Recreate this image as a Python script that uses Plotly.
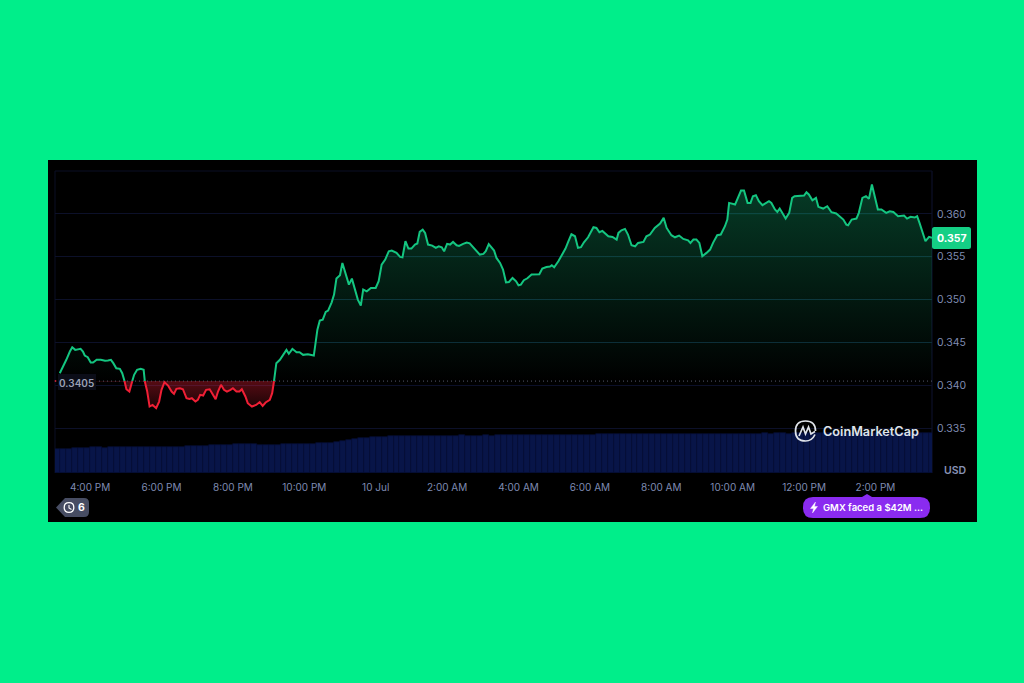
import numpy as np
import plotly.graph_objects as go

# minutes after 15:00 on 9 Jul
minutes = [9,15,20,26,30,35,40,44,48,51,56,61,65,71,78,85,90,95,99,104,110,114,118,121,126,129,134,139,145,150,152,156,160,165,171,176,180,185,191,197,201,205,211,216,222,227,231,237,241,245,250,255,261,265,271,275,280,285,290,296,300,306,311,315,321,325,332,339,345,350,355,362,366,369,373,379,384,390,394,400,407,412,418,426,436,
442,446,451,456,460,466,470,474,480,484,490,495,500,505,510,515,519,525,532,540,545,550,556,562,567,575,581,585,590,595,600,606,610,614,619,623,628,635,641,646,651,655,660,665,670,676,680,687,693,698,704,710,715,721,725,730,735,739,743,749,754,759,764,770,776,780,784,789,795,802,815,820,827,833,836,840,847,852,859,864,869,875,880,885,890,897,903,906,911,916,921,927,931,938,945,948,953,959,964,970,976,981,990,995,1001,1009,1018,1024,1029,1037,1043,1050,1057,1065,1069,1074,1079,1084,
1089,1096,1102,1107,1114,1120,1127,1131,1134,1144,1149,1154,1159,1165,1170,1174,1179,1184,1190,1196,1201,1205,1211,1215,1219,1225,1229,1235,1240,1244,1253,1260,1264,1268,1274,1280,1284,1292,1299,1306,1314,1320,1326,1331,1334,1340,1348,1352,1358,1364,1369,1374,1379,1384,1390,1398,1404,1410,1418,1428,1433,1439,1446,1450,1454,1464,1470,1475]
prices = [.34142,.34220,.34298,.34395,.34445,.34414,.34422,.34426,.34395,.34348,.34329,.34266,.34266,.34298,.34298,.34286,.34290,.34298,.34259,.34200,.34193,.34142,.34045,.33955,.33928,.34006,.34123,.34181,.34193,.34181,.34045,.33928,.33753,.33772,.33734,.33811,.33948,.34037,.33998,.33928,.33901,.33959,.33967,.33955,.33850,.33842,.33850,.33811,.33831,.33889,.33881,.33948,.33955,.33909,.33839,.33928,.34006,.33948,.33928,.33948,.33967,.33928,.33928,.33955,.33870,.33792,.33753,.33772,.33804,.33761,.33800,.33831,.33909,.34045,.34259,.34298,.34356,.34414,.34368,.34426,.34387,.34387,.34356,.34364,.34348,
.34650,.34755,.34767,.34856,.34872,.34969,.35058,.35245,.35284,.35428,.35280,.35175,.35245,.35117,.35000,.34930,.35117,.35097,.35136,.35136,.35214,.35409,.35467,.35564,.35572,.35545,.35498,.35494,.35681,.35595,.35595,.35642,.35654,.35790,.35817,.35778,.35642,.35630,.35603,.35622,.35611,.35564,.35650,.35642,.35673,.35634,.35626,.35650,.35665,.35657,.35611,.35576,.35525,.35533,.35564,.35646,.35603,.35572,.35486,.35428,.35350,.35202,.35206,.35253,.35214,.35167,.35175,.35226,.35249,.35292,.35296,.35362,.35381,.35385,.35401,.35377,.35447,.35513,.35595,.35681,.35762,.35739,.35603,.35611,.35669,.35727,.35809,.35844,.35836,.35786,.35801,.35759,.35739,.35731,.35700,.35778,.35809,.35825,.35759,.35634,.35622,.35661,.35673,.35739,.35759,.35836,.35887,.35953,.35836,.35751,.35727,.35747,.35708,.35692,.35661,.35700,.35700,.35661,
.35506,.35545,.35584,.35662,.35751,.35759,.35856,.35934,.36128,.36109,.36187,.36272,.36272,.36128,.36128,.36206,.36218,.36148,.36101,.36128,.36148,.36128,.36051,.36023,.36062,.35992,.35945,.36012,.36187,.36206,.36206,.36214,.36253,.36226,.36159,.36187,.36082,.36062,.36089,.36019,.36004,.35973,.35934,.35875,.35868,.35934,.35945,.36012,.36187,.36206,.36175,.36342,.36206,.36051,.36051,.36012,.36031,.36023,.35973,.35980,.35945,.35965,.35957,.35973,.35895,.35681,.35732,.35720]

# volume, one bar per ten minutes (relative scale)
volumes = [2.37,2.40,2.45,2.50,2.55,2.55,2.56,2.57,2.55,2.57,2.58,2.56,2.58,2.58,2.60,2.58,2.60,2.62,2.61,2.63,2.64,2.65,2.68,2.70,2.72,2.74,2.78,2.80,2.82,2.84,2.86,2.88,2.90,2.88,2.85,2.80,2.82,2.85,2.87,2.88,2.90,2.92,2.94,2.95,2.97,3.00,3.05,3.12,3.25,3.35,3.42,3.48,3.52,3.58,3.60,3.64,3.68,3.70,3.72,3.72,3.73,3.72,3.74,3.73,3.74,3.75,3.74,3.75,3.76,3.75,3.74,3.75,3.76,3.75,3.76,3.77,3.76,3.78,3.77,3.78,3.79,3.78,3.80,3.81,3.80,3.82,3.83,3.82,3.84,3.85,3.84,3.86,3.87,3.88,3.90,3.92,3.93,3.94,3.95,3.94,3.93,3.92,3.93,3.92,3.94,3.93,3.92,3.93,3.94,3.93,3.92,3.93,3.92,3.94,3.93,3.94,3.95,3.94,3.95,3.96,3.95,3.97,3.96,3.95,3.96,3.97,3.96,3.97,3.98,3.97,3.98,3.97,3.98,3.99,3.98,3.99,3.98,4.00,3.99,4.00,3.99,4.00,4.01,4.00,4.00,4.01,4.00,4.00]

x_tick_minutes = [60,180,300,420,540,660,780,900,1020,1140,1260,1380]
x_tick_labels = ["4:00 PM","6:00 PM","8:00 PM","10:00 PM","10 Jul","2:00 AM","4:00 AM","6:00 AM","8:00 AM","10:00 AM","12:00 PM","2:00 PM"]
y_ticks = [0.335,0.340,0.345,0.350,0.355,0.360]
BASE = 0.3405
LAST = 0.357

GREEN, RED = "#14c580", "#f01f35"
AXIS = "#7f8bb2"
FONT = "Inter"

W, H = 1024, 683
L, R, T, B = 55, 932, 171, 473
def px(v): return (v - L) / (R - L)
def py(v): return (B - v) / (B - T)
def P(v, w): return f"{px(v):.5f} {py(w):.5f}"

# split the series where it crosses the opening price
xs, ys = [minutes[0]], [prices[0]]
for i in range(1, len(minutes)):
    a, b = prices[i-1], prices[i]
    if (a - BASE) * (b - BASE) < 0:
        t = (BASE - a) / (b - a)
        xs.append(minutes[i-1] + t * (minutes[i] - minutes[i-1])); ys.append(BASE)
    xs.append(minutes[i]); ys.append(b)
xs, ys = np.array(xs), np.array(ys)
up = np.where(ys >= BASE, ys, np.nan)
dn = np.where(ys <= BASE, ys, np.nan)
base = np.full(len(xs), BASE)

fig = go.Figure()
fig.add_bar(x=np.arange(len(volumes)) * 10 + 5, y=volumes, yaxis="y2", width=10,
            marker=dict(color="#081548", line=dict(color="#060f36", width=0.6)), hoverinfo="skip")
fig.add_scatter(x=xs, y=base, mode="lines", line=dict(width=0), hoverinfo="skip")
fig.add_scatter(x=xs, y=np.maximum(ys, BASE), mode="lines", line=dict(width=0), fill="tonexty", hoverinfo="skip",
                fillgradient=dict(type="vertical", start=BASE, stop=0.3635,
                                  colorscale=[[0, "rgba(20,197,128,0)"], [1, "rgba(20,197,128,0.30)"]]))
fig.add_scatter(x=xs, y=base, mode="lines", line=dict(width=0), hoverinfo="skip")
fig.add_scatter(x=xs, y=np.minimum(ys, BASE), mode="lines", line=dict(width=0), fill="tonexty", hoverinfo="skip",
                fillgradient=dict(type="vertical", start=0.3372, stop=BASE,
                                  colorscale=[[0, "rgba(240,31,53,0.10)"], [1, "rgba(240,31,53,0.36)"]]))
# grid lines pick up a teal tint where they run under the area
for level in y_ticks[2:]:
    fig.add_scatter(x=xs, y=np.where(ys >= level, level, np.nan), mode="lines",
                    line=dict(color="rgba(20,197,128,0.13)", width=1), hoverinfo="skip")
fig.add_scatter(x=xs, y=up, mode="lines", line=dict(color=GREEN, width=2), connectgaps=False, hoverinfo="skip")
fig.add_scatter(x=xs, y=dn, mode="lines", line=dict(color=RED, width=2), connectgaps=False, hoverinfo="skip")

def rrect(x0, y0, x1, y1, r):
    return (f"M {P(x0+r,y0)} L {P(x1-r,y0)} Q {P(x1,y0)} {P(x1,y0+r)} L {P(x1,y1-r)} Q {P(x1,y1)} {P(x1-r,y1)} "
            f"L {P(x0+r,y1)} Q {P(x0,y1)} {P(x0,y1-r)} L {P(x0,y0+r)} Q {P(x0,y0)} {P(x0+r,y0)} Z")

def circle(cx, cy, r):
    return (f"M {P(cx-r,cy)} Q {P(cx-r,cy-r)} {P(cx,cy-r)} Q {P(cx+r,cy-r)} {P(cx+r,cy)} "
            f"Q {P(cx+r,cy+r)} {P(cx,cy+r)} Q {P(cx-r,cy+r)} {P(cx-r,cy)} Z")

shapes = [
    dict(type="rect", xref="paper", yref="paper", x0=px(48), x1=px(977), y0=py(522), y1=py(160),
         fillcolor="#000000", line_width=0, layer="below"),
    dict(type="line", xref="paper", yref="paper", x0=px(L), x1=px(L), y0=0, y1=1, line=dict(color="#0b0e24", width=1), layer="below"),
    dict(type="line", xref="paper", yref="paper", x0=1, x1=1, y0=0, y1=1, line=dict(color="#0f1230", width=1), layer="below"),
    dict(type="line", xref="paper", yref="paper", x0=0, x1=1, y0=1, y1=1, line=dict(color="#0b0e24", width=1), layer="below"),
    dict(type="line", xref="paper", yref="y", x0=0, x1=1, y0=BASE, y1=BASE, line=dict(color="#55586a", width=1, dash="1px,3px")),
    dict(type="rect", xref="paper", yref="paper", x0=px(58), x1=px(96), y0=py(390), y1=py(374), fillcolor="#0b0d18", line_width=0),
    dict(type="circle", xref="paper", yref="y", x0=px(54.5), x1=px(56.5), y0=BASE-0.00009, y1=BASE+0.00009, fillcolor=RED, line_width=0),
    dict(type="path", xref="paper", yref="paper", path=rrect(932, 227, 971, 249, 2.5), fillcolor="#14cf85", line_width=0),
    dict(type="path", xref="paper", yref="paper", path=rrect(803, 497, 930, 518, 10), fillcolor="#8a2bf0", line_width=0),
    dict(type="path", xref="paper", yref="paper", path=f"M {P(862,497)} L {P(867,494)} L {P(872,497)} Z", fillcolor="#8a2bf0", line_width=0),
    dict(type="path", xref="paper", yref="paper",
         path=f"M {P(815.5,502)} L {P(810.5,508.5)} L {P(813.5,508.5)} L {P(812.5,513)} L {P(817.5,506.5)} L {P(814.5,506.5)} Z",
         fillcolor="#ffffff", line=dict(color="#ffffff", width=0.4)),
    dict(type="path", xref="paper", yref="paper",
         path=f"M {P(65,498)} L {P(84,498)} Q {P(89,498)} {P(89,503)} L {P(89,512)} Q {P(89,517)} {P(84,517)} L {P(65,517)} L {P(56,507.5)} Z",
         fillcolor="#474d63", line_width=0),
    dict(type="path", xref="paper", yref="paper", path=circle(69, 507.5, 4.8), line=dict(color="#ffffff", width=1.3)),
    dict(type="path", xref="paper", yref="paper", path=f"M {P(69,505)} L {P(69,508)} L {P(71.5,509.5)}", line=dict(color="#ffffff", width=1.1)),
    # CoinMarketCap mark
    dict(type="path", xref="paper", yref="paper",
         path=(f"M {P(815,434.5)} Q {P(812,441)} {P(805.5,441)} Q {P(795.5,441)} {P(795.5,431)} Q {P(795.5,421)} {P(805.5,421)} "
               f"Q {P(815.5,421)} {P(815.5,431)}"), line=dict(color="#e0e4ea", width=1.7)),
    dict(type="path", xref="paper", yref="paper",
         path=f"M {P(799,436)} L {P(803,427)} L {P(805.5,434)} L {P(808.5,427)} L {P(811,434)} L {P(815,431.5)}",
         line=dict(color="#e0e4ea", width=1.7)),
]

def note(x, y, text, color, size, weight=400, anchor="center"):
    return dict(xref="paper", yref="paper", x=px(x), y=py(y), text=text, showarrow=False, xanchor=anchor, yanchor="middle",
                font=dict(family=FONT, color=color, size=size, weight=weight))

annotations = [
    note(76.5, 382.5, "0.3405", "#9aa1b5", 10, 600),
    note(951.5, 238, f"{LAST:.3f}", "#ffffff", 10.5, 700),
    note(955, 470.5, "USD", "#8791b4", 10.5, 600),
    note(870.5, 431.5, "CoinMarketCap", "#dfe3ea", 12.7, 600),
    note(873, 507.5, "GMX faced a $42M ...", "#ffffff", 9.5, 600),
    note(81.5, 507.5, "6", "#ffffff", 10.5, 700),
]

fig.update_layout(
    width=W, height=H, autosize=False, showlegend=False, barmode="overlay", bargap=0,
    paper_bgcolor="#00EE8A", plot_bgcolor="rgba(0,0,0,0)",
    margin=dict(l=L, r=W - R, t=T, b=H - B, pad=0),
    font=dict(family=FONT, color=AXIS, size=10),
    shapes=shapes, annotations=annotations,
    xaxis=dict(range=[1, 1475], tickvals=x_tick_minutes, ticktext=x_tick_labels, showgrid=False, zeroline=False,
               showline=False, ticks="outside", ticklen=5, tickcolor="rgba(0,0,0,0)", tickfont=dict(color=AXIS, size=10, family=FONT)),
    yaxis=dict(range=[0.32978, 0.365], side="right", tickvals=y_ticks, ticktext=[f"{v:.3f}" for v in y_ticks],
               gridcolor="#0c1029", gridwidth=1, zeroline=False, showline=False, ticks="outside", ticklen=2,
               tickcolor="rgba(0,0,0,0)", tickfont=dict(color=AXIS, size=10.5, family=FONT)),
    yaxis2=dict(range=[0, 30.2], overlaying="y", side="left", visible=False),
)

fig.write_html("out.html", config={"displayModeBar": False},
               post_script="document.body.style.margin='0';document.body.style.overflow='hidden';")
